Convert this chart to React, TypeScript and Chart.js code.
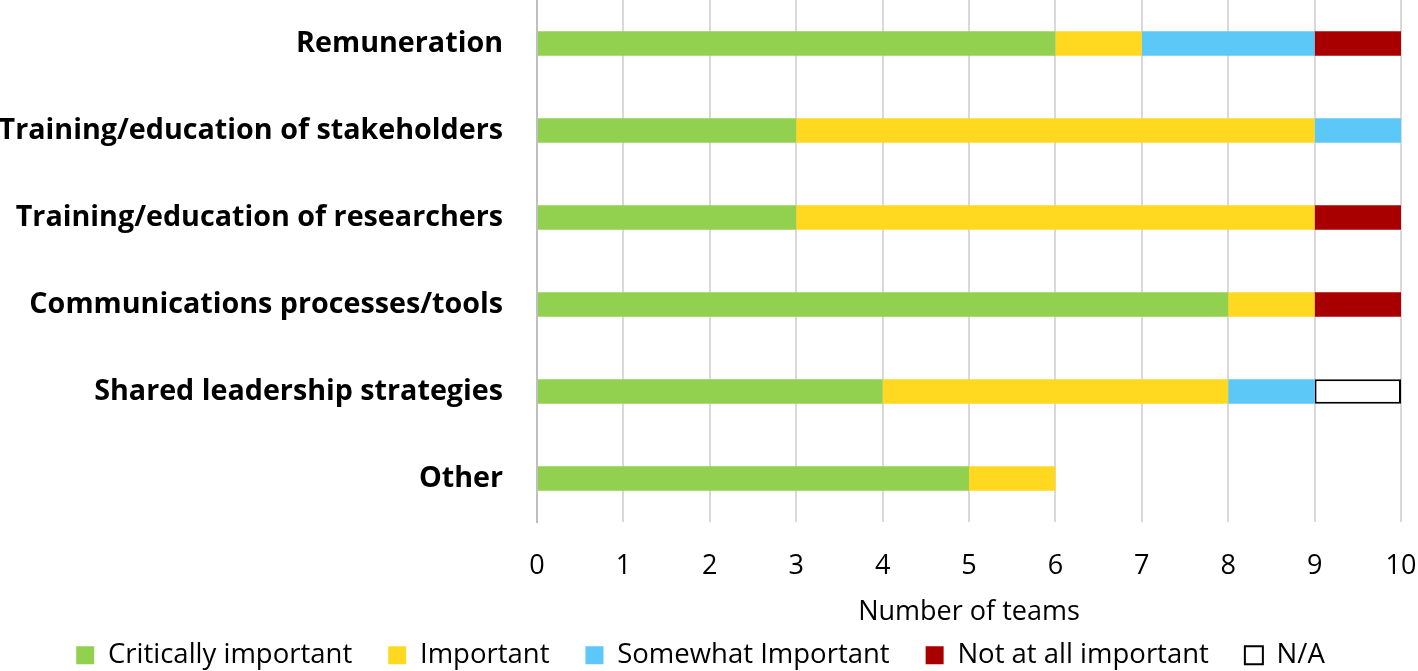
import React, { useEffect, useRef } from "react";
import { Chart, registerables } from "chart.js";

Chart.register(...registerables);

const categories = [
  "Remuneration",
  "Training/education of stakeholders",
  "Training/education of researchers",
  "Communications processes/tools",
  "Shared leadership strategies",
  "Other",
];
const seriesNames = [
  "Critically important",
  "Important",
  "Somewhat Important",
  "Not at all important",
  "N/A",
];
const criticallyImportant = [6, 3, 3, 8, 4, 5];
const important = [1, 6, 6, 1, 4, 1];
const somewhatImportant = [2, 1, 0, 0, 1, 0];
const notAtAllImportant = [1, 0, 1, 1, 0, 0];
const notApplicable = [null, null, null, null, 1, null];
const xTicks = [0, 1, 2, 3, 4, 5, 6, 7, 8, 9, 10];
const xTitle = "Number of teams";

const FONT = "'Open Sans', Lato, sans-serif";

export default function App() {
  const ref = useRef<HTMLCanvasElement | null>(null);
  useEffect(() => {
    if (!ref.current) return;
    const colors = ["#92D050", "#FFD81F", "#5BC8F8", "#A80000", "#FFFFFF"];
    const values = [criticallyImportant, important, somewhatImportant, notAtAllImportant, notApplicable];
    const datasets = seriesNames.map((name, i) => ({
      label: name,
      data: values[i],
      backgroundColor: colors[i],
      borderColor: i === 4 ? "#000000" : colors[i],
      borderWidth: i === 4 ? 2 : 0,
      borderSkipped: false,
      categoryPercentage: 1,
      barPercentage: 0.28,
    }));
    const chart = new Chart(ref.current, {
      type: "bar",
      data: { labels: categories, datasets: datasets as any },
      options: {
        indexAxis: "y",
        responsive: false,
        animation: false,
        layout: { padding: { left: 0, right: 17, top: 0, bottom: -8 } },
        plugins: {
          tooltip: { enabled: false },
          legend: {
            position: "bottom",
            labels: {
              font: { family: FONT, size: 27.5 },
              color: "#000000",
              boxWidth: 18,
              boxHeight: 18,
              padding: 36,
            },
          },
        },
        scales: {
          x: {
            stacked: true,
            min: xTicks[0],
            max: xTicks[xTicks.length - 1],
            afterBuildTicks: (scale: any) => {
              scale.ticks = xTicks.map((v) => ({ value: v }));
            },
            afterFit: (scale: any) => {
              scale.height = 83.5;
              scale.paddingLeft = 0;
              scale.paddingRight = 0;
            },
            grid: { color: "#D9D9D9", lineWidth: 2, drawTicks: false },
            border: { display: false },
            ticks: {
              font: { family: FONT, size: 27 },
              color: "#000000",
              padding: 28,
            },
            title: {
              display: true,
              text: xTitle,
              font: { family: FONT, size: 27 },
              color: "#000000",
              padding: { top: 0, bottom: -23 },
            },
          },
          y: {
            stacked: true,
            afterFit: (scale: any) => {
              scale.width = 537;
              scale.paddingTop = 0;
              scale.paddingBottom = 0;
            },
            grid: { display: false, drawTicks: false },
            border: { display: true, color: "#BFBFBF", width: 2 },
            ticks: {
              font: { family: FONT, size: 28.7, weight: "bold" },
              color: "#000000",
              padding: 34,
            },
          },
        },
      },
    });
    return () => chart.destroy();
  }, []);
  return (
    <div style={{ position: "fixed", left: 0, top: 0, width: 1418, height: 671, background: "#fff" }}>
      <canvas ref={ref} width={1418} height={671} />
    </div>
  );
}
